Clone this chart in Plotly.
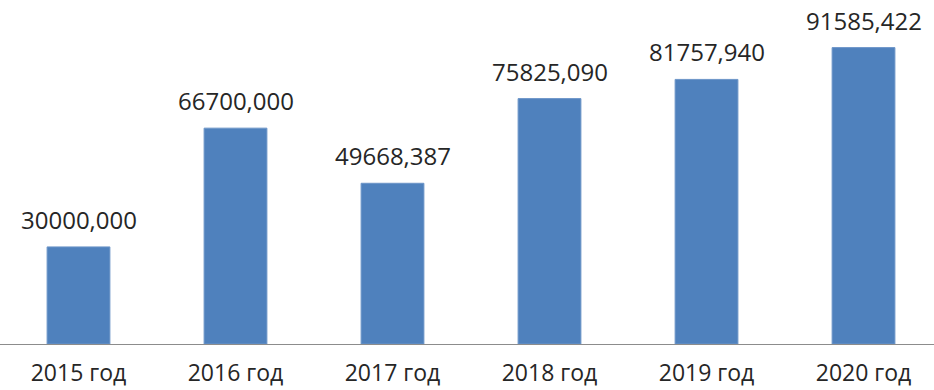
import plotly.graph_objects as go

years = ["2015 год", "2016 год", "2017 год", "2018 год", "2019 год", "2020 год"]
values = [30000.000, 66700.000, 49668.387, 75825.090, 81757.940, 91585.422]


def fmt(v):
    # three decimals with a comma as the decimal separator
    return f"{v:.3f}".replace(".", ",")


fig = go.Figure(
    go.Bar(
        x=years,
        y=values,
        marker=dict(color="#4F81BD", line=dict(color="#6C95C8", width=1)),
        width=0.4,
        cliponaxis=False,
    )
)

for x, v in zip(years, values):
    fig.add_annotation(
        x=x,
        y=v,
        text=fmt(v),
        showarrow=False,
        yanchor="bottom",
        yshift=9,
        font=dict(family="Open Sans", size=24, color="#262626"),
    )

fig.update_layout(
    width=934,
    height=390,
    margin=dict(l=0, r=0, t=0, b=46),
    paper_bgcolor="white",
    plot_bgcolor="white",
    showlegend=False,
    xaxis=dict(
        range=[-0.5, 5.449],
        showline=True,
        linecolor="#8C8C8C",
        linewidth=1,
        ticks="",
        ticklabelstandoff=8,
        showgrid=False,
        automargin=False,
        tickfont=dict(family="Open Sans", size=23, color="#262626"),
        fixedrange=True,
    ),
    yaxis=dict(
        range=[0, 106300],
        visible=False,
        showgrid=False,
        fixedrange=True,
    ),
)

fig.write_html("out.html", config={"displayModeBar": False})
